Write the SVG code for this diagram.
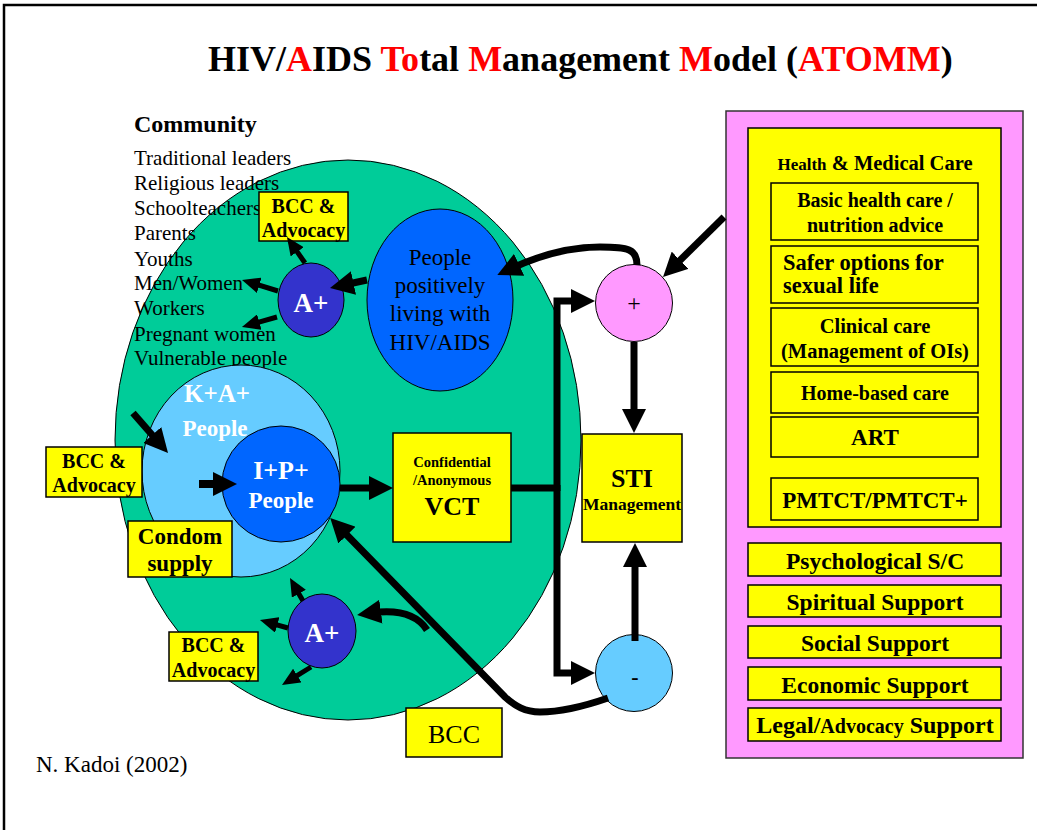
<svg xmlns="http://www.w3.org/2000/svg" width="1037" height="830" viewBox="0 0 1037 830">
<style>
text{font-family:"Liberation Serif","Times New Roman",serif;fill:#000}
.b{font-weight:bold}
.m{text-anchor:middle}
.w{fill:#fff}
.box{fill:#FFFF00;stroke:#000;stroke-width:1.5}
.conn path{fill:none;stroke:#000;stroke-width:7}
.conn path.s{stroke-width:5}
</style>
<defs>
<marker id="ah" markerUnits="userSpaceOnUse" markerWidth="24" markerHeight="24" viewBox="0 0 24 24" refX="10" refY="12" orient="auto"><path d="M0,0 L24,12 L0,24 z" fill="#000"/></marker>
<marker id="as" markerUnits="userSpaceOnUse" markerWidth="18" markerHeight="16" viewBox="0 0 18 16" refX="6" refY="8" orient="auto"><path d="M0,0 L18,8 L0,16 z" fill="#000"/></marker>
</defs>
<rect width="1037" height="830" fill="#fff"/>
<path d="M4,830 V5 H1037" fill="none" stroke="#000" stroke-width="2.5"/>
<g id="title">
<text x="208" y="71" font-size="36" class="b">HIV/<tspan fill="#f00">A</tspan>IDS <tspan fill="#f00">To</tspan>tal <tspan fill="#f00">M</tspan>anagement <tspan fill="#f00">M</tspan>odel (<tspan fill="#f00">ATOMM</tspan>)</text>
</g>
<g id="community">
<ellipse cx="348" cy="440" rx="233" ry="280" fill="#00CC99" stroke="#000" stroke-width="1"/>
<text x="134" y="132" font-size="24" class="b">Community</text>
<g font-size="21">
<text x="134" y="165">Traditional leaders</text>
<text x="134" y="190">Religious leaders</text>
<text x="134" y="215">Schoolteachers</text>
<text x="134" y="240">Parents</text>
<text x="134" y="266">Youths</text>
<text x="134" y="290">Men/Women</text>
<text x="134" y="315">Workers</text>
<text x="134" y="341">Pregnant women</text>
<text x="134" y="365">Vulnerable people</text>
</g>
</g>
<g id="kap">
<ellipse cx="241" cy="471" rx="99" ry="106" fill="#66CCFF" stroke="#000" stroke-width="1"/>
<text x="217" y="402" font-size="25" class="b m w">K+A+</text>
<text x="215" y="436" font-size="23" class="b m w">People</text>
</g>
<g id="ipp">
<ellipse cx="281" cy="484" rx="59" ry="58" fill="#0066FF" stroke="#000" stroke-width="1"/>
<text x="281" y="479" font-size="26" class="b m w">I+P+</text>
<text x="281" y="508" font-size="23" class="b m w">People</text>
</g>
<g id="plwha">
<ellipse cx="440" cy="300" rx="73" ry="91" fill="#0066FF" stroke="#000" stroke-width="1"/>
<g font-size="23" class="m" fill="#111">
<text x="440" y="265">People</text>
<text x="440" y="293">positively</text>
<text x="440" y="321">living with</text>
<text x="440" y="350">HIV/AIDS</text>
</g>
</g>
<g id="aplus-upper">
<ellipse cx="311" cy="300" rx="33" ry="37" fill="#3333CC" stroke="#000" stroke-width="1"/>
<text x="311" y="312" font-size="27" class="b m w">A+</text>
</g>
<g id="aplus-lower">
<ellipse cx="322" cy="631" rx="34" ry="37" fill="#3333CC" stroke="#000" stroke-width="1"/>
<text x="322" y="642" font-size="27" class="b m w">A+</text>
</g>
<g id="bcc-upper">
<rect class="box" x="259" y="192" width="89" height="49"/>
<text x="303.5" y="213" font-size="20" class="b m">BCC &amp;</text>
<text x="303.5" y="237" font-size="20" class="b m">Advocacy</text>
</g>
<g id="bcc-left">
<rect class="box" x="46" y="447" width="96" height="50"/>
<text x="94" y="468" font-size="20" class="b m">BCC &amp;</text>
<text x="94" y="492" font-size="20" class="b m">Advocacy</text>
</g>
<g id="condom">
<rect class="box" x="128" y="521" width="104" height="56"/>
<text x="180" y="544" font-size="23" class="b m">Condom</text>
<text x="180" y="571" font-size="23" class="b m">supply</text>
</g>
<g id="bcc-lower">
<rect class="box" x="169" y="632" width="89" height="49"/>
<text x="213.5" y="652" font-size="20" class="b m">BCC &amp;</text>
<text x="213.5" y="677" font-size="20" class="b m">Advocacy</text>
</g>
<g id="bcc-bottom">
<rect class="box" x="406" y="708" width="96" height="49"/>
<text x="454" y="743" font-size="26" class="m">BCC</text>
</g>
<g id="vct">
<rect class="box" x="393" y="433" width="118" height="109"/>
<text x="452" y="467" font-size="14.5" class="b m">Confidential</text>
<text x="452" y="485" font-size="14.5" class="b m">/Anonymous</text>
<text x="452" y="515" font-size="26" class="b m">VCT</text>
</g>
<g id="sti">
<rect class="box" x="582" y="434" width="100" height="108"/>
<text x="632" y="487" font-size="26" class="b m">STI</text>
<text x="632" y="510" font-size="17.5" class="b m">Management</text>
</g>
<g id="plus">
<circle cx="634" cy="303" r="38.5" fill="#FF99FF" stroke="#000" stroke-width="1"/>
<text x="634" y="311" font-size="24" class="m" fill="#333">+</text>
</g>
<g id="minus">
<circle cx="634" cy="673" r="38.5" fill="#66CCFF" stroke="#000" stroke-width="1"/>
<text x="635" y="684" font-size="22" class="b m">-</text>
</g>
<g id="care-panel">
<rect x="726" y="111" width="297" height="647" fill="#FF99FF" stroke="#333" stroke-width="1.5"/>
<rect class="box" x="748" y="128" width="253" height="399"/>
<text x="875" y="170" class="b m" font-size="20.5"><tspan font-size="17">Health</tspan> &amp; Medical Care</text>
<rect class="box" x="771" y="183" width="207" height="57"/>
<text x="875" y="207" font-size="20" class="b m">Basic health care /</text>
<text x="875" y="232" font-size="20" class="b m">nutrition advice</text>
<rect class="box" x="771" y="246" width="207" height="57"/>
<text x="783" y="270" font-size="22.5" class="b">Safer options for</text>
<text x="783" y="293" font-size="22.5" class="b">sexual life</text>
<rect class="box" x="771" y="308" width="207" height="58"/>
<text x="875" y="333" font-size="20.5" class="b m">Clinical care</text>
<text x="875" y="358" font-size="20.5" class="b m">(Management of OIs)</text>
<rect class="box" x="771" y="372" width="207" height="41"/>
<text x="875" y="400" font-size="20" class="b m">Home-based care</text>
<rect class="box" x="771" y="417" width="207" height="40"/>
<text x="875" y="445" font-size="23" class="b m">ART</text>
<rect class="box" x="771" y="478" width="207" height="42"/>
<text x="875" y="508" font-size="23" class="b m">PMTCT/PMTCT+</text>
</g>
<g id="support">
<rect class="box" x="748" y="543" width="253" height="33"/>
<text x="875" y="569" font-size="23.5" class="b m">Psychological S/C</text>
<rect class="box" x="748" y="585" width="253" height="32"/>
<text x="875" y="610" font-size="23.5" class="b m">Spiritual Support</text>
<rect class="box" x="748" y="626" width="253" height="32"/>
<text x="875" y="651" font-size="23.5" class="b m">Social Support</text>
<rect class="box" x="748" y="667" width="253" height="33"/>
<text x="875" y="693" font-size="23.5" class="b m">Economic Support</text>
<rect class="box" x="748" y="708" width="253" height="33"/>
<text x="875" y="733" font-size="24" class="b m">Legal/<tspan font-size="20">Advocacy</tspan> Support</text>
</g>
<g id="credit">
<text x="36" y="772" font-size="23">N. Kadoi (2002)</text>
</g>
<g id="connectors" class="conn">
<path d="M133,413 L158.8,442.5" marker-end="url(#ah)"/>
<path d="M199,484 L223,484" marker-end="url(#ah)" style="stroke-width:8"/>
<path d="M340,488 L379,488" marker-end="url(#ah)"/>
<path d="M511,488 H557"/>
<path d="M557,491 V301 H581" marker-end="url(#ah)" style="stroke-linejoin:miter"/>
<path d="M557,485 V673 H581" marker-end="url(#ah)" style="stroke-linejoin:miter"/>
<path d="M634,342 L634,419" marker-end="url(#ah)"/>
<path d="M635,641 L635,557" marker-end="url(#ah)"/>
<path d="M724,217 L673,267.2" marker-end="url(#ah)"/>
<path d="M637,265 C637,249 628,247 600,247 C570,247 540,255 510,269" marker-end="url(#ah)"/>
<path d="M367,280 L343.7,285" marker-end="url(#ah)"/>
<path class="s" d="M305,263 L293.8,246.9" marker-end="url(#as)"/>
<path class="s" d="M278,291 L253.5,283.5" marker-end="url(#as)"/>
<path class="s" d="M277,317 L253.5,323.7" marker-end="url(#as)"/>
<path class="s" d="M303,601 L295.9,588.5" marker-end="url(#as)"/>
<path class="s" d="M288,628 L271.5,623.3" marker-end="url(#as)"/>
<path class="s" d="M311,667 L292.2,678.7" marker-end="url(#as)"/>
<path d="M427,630 C418,616 400,609 371,613" marker-end="url(#ah)"/>
<path d="M608,698 C585,706 560,712 540,712 C525,712 515,706 505,697 L340,528" marker-end="url(#ah)"/>
</g>
</svg>
